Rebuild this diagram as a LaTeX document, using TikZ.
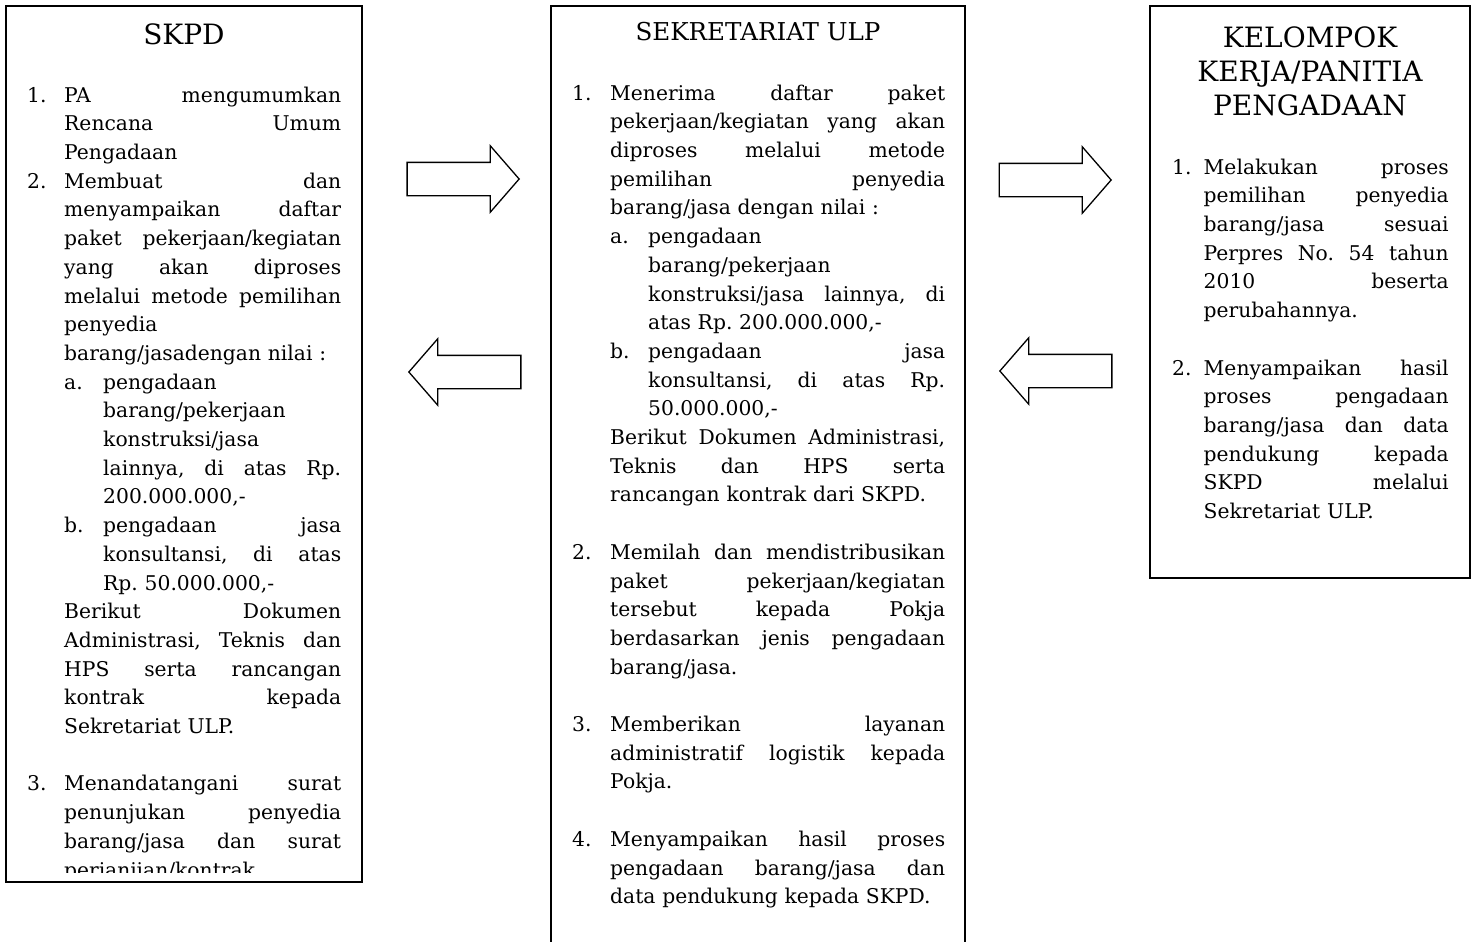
\documentclass[tikz,border=0pt]{standalone}
\usepackage{fontspec}
\setmainfont{DejaVu Serif}
\usepackage{tikz}
\usetikzlibrary{shapes.arrows}

\frenchspacing
\newlength{\indkol}
\newlength{\lebarkol}
\newlength{\subkol}
\newcommand{\kolom}[3]{\setlength{\indkol}{#1}\setlength{\lebarkol}{#2}\setlength{\subkol}{#3}}
% s = rata kiri-kanan, l = rata kiri
\newcommand{\isibaris}[3]{\if s#1\makebox[#2][s]{\spaceskip=\fontdimen2\font plus 1fil\relax#3}\else\makebox[#2][l]{#3}\fi}
\newcommand{\butir}[3][s]{\strut\makebox[\indkol][l]{#2}\isibaris{#1}{\lebarkol}{#3}}
\newcommand{\lanjut}[2][s]{\strut\hspace*{\indkol}\isibaris{#1}{\lebarkol}{#2}}
\newcommand{\subbutir}[3][s]{\strut\hspace*{\indkol}\makebox[\subkol][l]{#2}\isibaris{#1}{\dimexpr\lebarkol-\subkol\relax}{#3}}
\newcommand{\sublanjut}[2][s]{\strut\hspace*{\dimexpr\indkol+\subkol\relax}\isibaris{#1}{\dimexpr\lebarkol-\subkol\relax}{#2}}

\begin{document}
\begin{tikzpicture}[x=1pt,y=-1pt]
\tikzstyle{kotak} = [rectangle, draw=black, line width=1.6pt, inner sep=0pt]
\tikzstyle{judul} = [inner sep=0pt, align=center]
\tikzstyle{isi} = [inner sep=0pt, anchor=north west, align=left, font=\fontsize{20.3}{28.7}\selectfont]
\tikzstyle{panah} = [single arrow, draw=black, line width=1.3pt, minimum height=112pt, inner xsep=0pt, inner ysep=16pt, single arrow head extend=16.5pt, single arrow tip angle=98, anchor=tip]
\tikzstyle{panahkiri} = [panah, shape border rotate=180]

\useasboundingbox (0,0) rectangle (1478,942);

% kotak
\node (skpd) [kotak, minimum width=356pt, minimum height=876pt] at (184,444) {};
\node (ulp) [kotak, minimum width=414pt, minimum height=990pt] at (758,501) {};
\node (pokja) [kotak, minimum width=320pt, minimum height=572pt] at (1310,292) {};

% judul
\node (judulskpd) [judul, anchor=base, font=\fontsize{28}{34}\selectfont] at (184,45) {SKPD};
\node (judululp) [judul, anchor=base, font=\fontsize{24.6}{30}\selectfont] at (758,41) {SEKRETARIAT ULP};
\node (judulpokja) [judul, anchor=north, font=\fontsize{28}{34}\selectfont] at (1310,23.2) {\strut KELOMPOK\\\strut KERJA/PANITIA\\\strut PENGADAAN};

% isi SKPD
\begin{scope}
\clip (6,6) rectangle (362,872);
\node (isiskpd) [isi, text width=314pt] at (27,81.9) {\kolom{37pt}{277pt}{39pt}\noindent
\butir{1.}{PA mengumumkan}\\
\lanjut{Rencana Umum}\\
\lanjut[l]{Pengadaan}\\
\butir{2.}{Membuat dan}\\
\lanjut{menyampaikan daftar}\\
\lanjut{paket pekerjaan/kegiatan}\\
\lanjut{yang akan diproses}\\
\lanjut{melalui metode pemilihan}\\
\lanjut[l]{penyedia}\\
\lanjut[l]{barang/jasadengan nilai :}\\
\subbutir[l]{a.}{pengadaan}\\
\sublanjut[l]{barang/pekerjaan}\\
\sublanjut[l]{konstruksi/jasa}\\
\sublanjut{lainnya, di atas Rp.}\\
\sublanjut[l]{200.000.000,-}\\
\subbutir{b.}{pengadaan jasa}\\
\sublanjut{konsultansi, di atas}\\
\sublanjut[l]{Rp. 50.000.000,-}\\
\lanjut{Berikut Dokumen}\\
\lanjut{Administrasi, Teknis dan}\\
\lanjut{HPS serta rancangan}\\
\lanjut{kontrak kepada}\\
\lanjut[l]{Sekretariat ULP.}\\
\strut\\
\butir{3.}{Menandatangani surat}\\
\lanjut{penunjukan penyedia}\\
\lanjut{barang/jasa dan surat}\\
\lanjut[l]{perjanjian/kontrak}};
\end{scope}

% isi sekretariat ULP
\node (isiulp) [isi, text width=373pt] at (572,79.9) {\kolom{38pt}{335pt}{38pt}\noindent
\butir{1.}{Menerima daftar paket}\\
\lanjut{pekerjaan/kegiatan yang akan}\\
\lanjut{diproses melalui metode}\\
\lanjut{pemilihan penyedia}\\
\lanjut[l]{barang/jasa dengan nilai :}\\
\subbutir[l]{a.}{pengadaan}\\
\sublanjut[l]{barang/pekerjaan}\\
\sublanjut{konstruksi/jasa lainnya, di}\\
\sublanjut[l]{atas Rp. 200.000.000,-}\\
\subbutir{b.}{pengadaan jasa}\\
\sublanjut{konsultansi, di atas Rp.}\\
\sublanjut[l]{50.000.000,-}\\
\lanjut{Berikut Dokumen Administrasi,}\\
\lanjut{Teknis dan HPS serta}\\
\lanjut[l]{rancangan kontrak dari SKPD.}\\
\strut\\
\butir{2.}{Memilah dan mendistribusikan}\\
\lanjut{paket pekerjaan/kegiatan}\\
\lanjut{tersebut kepada Pokja}\\
\lanjut{berdasarkan jenis pengadaan}\\
\lanjut[l]{barang/jasa.}\\
\strut\\
\butir{3.}{Memberikan layanan}\\
\lanjut{administratif logistik kepada}\\
\lanjut[l]{Pokja.}\\
\strut\\
\butir{4.}{Menyampaikan hasil proses}\\
\lanjut{pengadaan barang/jasa dan}\\
\lanjut[l]{data pendukung kepada SKPD.}};

% isi pokja
\node (isipokja) [isi, text width=276.5pt] at (1172,153.9) {\kolom{31.5pt}{245pt}{0pt}\noindent
\butir{1.}{Melakukan proses}\\
\lanjut{pemilihan penyedia}\\
\lanjut{barang/jasa sesuai}\\
\lanjut{Perpres No. 54 tahun}\\
\lanjut{2010 beserta}\\
\lanjut[l]{perubahannya.}\\
\strut\\
\butir{2.}{Menyampaikan hasil}\\
\lanjut{proses pengadaan}\\
\lanjut{barang/jasa dan data}\\
\lanjut{pendukung kepada}\\
\lanjut{SKPD melalui}\\
\lanjut[l]{Sekretariat ULP.}};

% panah
\node (kirim1) [panah] at (520,179) {};
\node (balik1) [panahkiri] at (408,372) {};
\node (kirim2) [panah] at (1112,180) {};
\node (balik2) [panahkiri] at (999,371) {};
\end{tikzpicture}
\end{document}
